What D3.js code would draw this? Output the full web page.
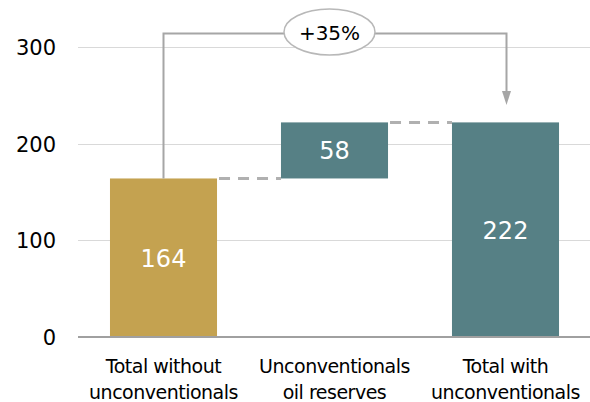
<!DOCTYPE html>
<html><head><meta charset="utf-8">
<script src="https://cdn.jsdelivr.net/npm/d3@7"></script>
<style>body{margin:0;background:#fff}svg{display:block}</style>
</head><body><svg id="c" width="590" height="402"></svg>
<script>
const categories = [["Total without","unconventionals"],["Unconventionals","oil reserves"],["Total with","unconventionals"]];
const bases = [0, 164, 0];
const values = [164, 58, 222];
const tops = [164, 222, 222];
const colors = ["#C4A250", "#568085", "#568085"];
const yTicks = [0, 100, 200, 300];
const changeLabel = "+35%";
const bracketTop = 314;   // value level of the bracket line
const arrowEnd = 240;     // value level of arrow tip

const svg = d3.select("#c");
const x = d3.scaleBand().domain(d3.range(categories.length)).range([78, 591]).paddingInner(0.374).paddingOuter(0.187);
const y = d3.scaleLinear().domain([0, 300]).range([337, 47]);
const font = "'DejaVu Sans', Verdana, sans-serif";

// gridlines
svg.append("g").selectAll("line").data(yTicks.filter(d => d > 0)).join("line")
  .attr("x1", 78).attr("x2", 590).attr("y1", d => Math.round(y(d)) + 0.5).attr("y2", d => Math.round(y(d)) + 0.5)
  .attr("stroke", "#d9d9d9").attr("stroke-width", 1.2);

// y tick labels
const yAxis = d3.axisLeft(y).tickValues(yTicks).tickSize(0).tickPadding(0);
const ya = svg.append("g").attr("transform", "translate(56,0)").call(yAxis);
ya.select(".domain").remove();
ya.selectAll("text").attr("font-family", font).attr("font-size", 21).attr("fill", "#000").attr("dy", "0.36em");

// bars
svg.append("g").selectAll("rect").data(values).join("rect")
  .attr("x", (d, i) => x(i)).attr("width", x.bandwidth())
  .attr("y", (d, i) => y(tops[i])).attr("height", (d, i) => y(bases[i]) - y(tops[i]))
  .attr("fill", (d, i) => colors[i]);

// baseline
svg.append("line").attr("x1", 78).attr("x2", 590).attr("y1", y(0)).attr("y2", y(0))
  .attr("stroke", "#a0a0a0").attr("stroke-width", 2);

// value labels
svg.append("g").selectAll("text").data(values).join("text")
  .attr("x", (d, i) => x(i) + x.bandwidth() / 2)
  .attr("y", (d, i) => (y(tops[i]) + y(bases[i])) / 2 + 9)
  .attr("text-anchor", "middle").attr("font-family", font).attr("font-size", 24).attr("fill", "#fff")
  .text(d => d);

// dashed connectors
for (let i = 0; i < values.length - 1; i++) {
  svg.append("line")
    .attr("x1", x(i) + x.bandwidth() + 2).attr("x2", x(i + 1))
    .attr("y1", y(tops[i])).attr("y2", y(tops[i]))
    .attr("stroke", "#b0b0b0").attr("stroke-width", 3).attr("stroke-dasharray", "11,8");
}

// category labels
const cg = svg.append("g");
categories.forEach((lines, i) => {
  const t = cg.append("text").attr("text-anchor", "middle").attr("font-family", font).attr("font-size", 19)
    .attr("letter-spacing", "-0.5px").attr("fill", "#000");
  lines.forEach((l, j) => t.append("tspan").attr("x", x(i) + x.bandwidth() / 2).attr("y", 373 + j * 25.5).text(l));
});

// bracket with arrow
const x0 = x(0) + x.bandwidth() / 2, x2 = x(2) + x.bandwidth() / 2 + 1;
const yb = y(bracketTop);
const ecx = (x(1) + x.bandwidth() / 2) - 5, ecy = 32, erx = 45.5, ery = 23;
svg.append("path")
  .attr("d", `M${x0},${y(tops[0])}V${yb}H${ecx - erx}`)
  .attr("fill", "none").attr("stroke", "#a6a6a6").attr("stroke-width", 2);
svg.append("path")
  .attr("d", `M${ecx + erx},${yb}H${x2}V${y(arrowEnd) - 12}`)
  .attr("fill", "none").attr("stroke", "#a6a6a6").attr("stroke-width", 2);
svg.append("path")
  .attr("d", `M${x2 - 4.5},${y(arrowEnd) - 14}L${x2 + 4.5},${y(arrowEnd) - 14}L${x2},${y(arrowEnd)}Z`)
  .attr("fill", "#a6a6a6");
svg.append("ellipse").attr("cx", ecx).attr("cy", ecy).attr("rx", erx).attr("ry", ery)
  .attr("fill", "#fff").attr("stroke", "#b8b8b8").attr("stroke-width", 1.5);
svg.append("text").attr("x", ecx).attr("y", ecy + 8).attr("text-anchor", "middle")
  .attr("font-family", font).attr("font-size", 20).attr("fill", "#000").text(changeLabel);
</script></body></html>
